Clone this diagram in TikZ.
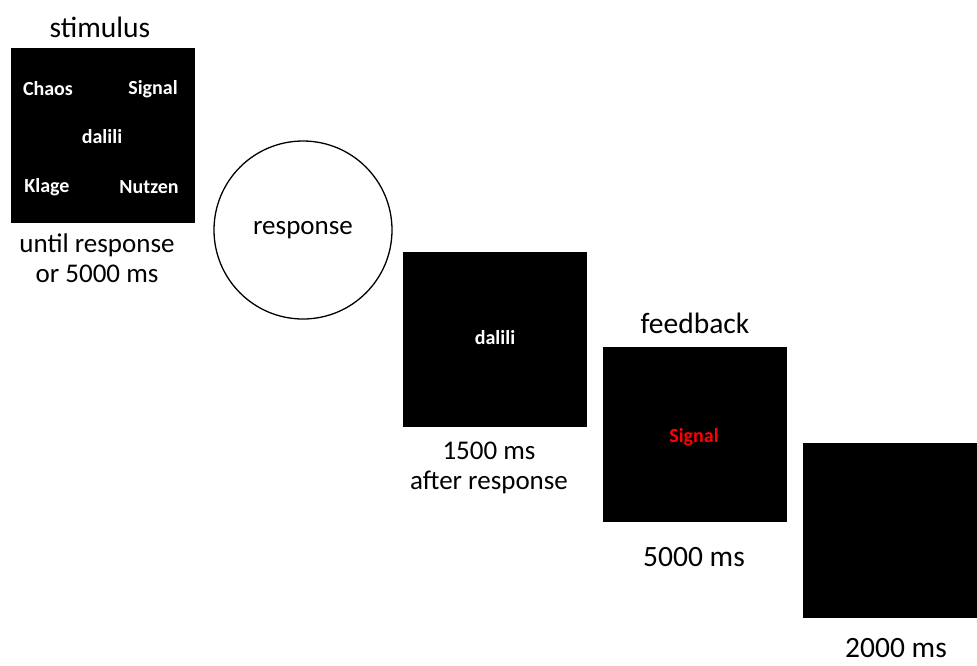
\documentclass[tikz,border=0pt]{standalone}
\usepackage{fontspec}
\setmainfont{Carlito}
\usepackage{tikz}
\usetikzlibrary{positioning}
\tikzset{screen/.style = {rectangle,fill=black,minimum width=184pt,minimum height=175pt,inner sep=0pt},
         word/.style = {text=white,font=\fontsize{20}{24}\selectfont\bfseries},
         caption/.style = {font=\fontsize{27}{30}\selectfont,align=center,inner sep=0pt},
         big/.style = {font=\fontsize{29.5}{32}\selectfont}}

\begin{document}
\begin{tikzpicture}[x=1pt,y=-1pt]
    \useasboundingbox (0,0) rectangle (977,665);
    % stimulus screen with the five words
    \node [screen] (S1) at (103,135) {};
    \node [caption,big] (stim) at (100,27) {stimulus};
    \node [word] (w1) at (48,89) {Chaos};
    \node [word] (w2) at (153,89) {Signal};
    \node [word] (w3) at (102,137) {dalili};
    \node [word] (w4) at (47,187) {Klage};
    \node [word] (w5) at (149,187) {Nutzen};
    \node [caption] (t1) at (97,258) {until response\\or 5000 ms};
    % response
    \node [caption,draw,circle,line width=1.3pt,minimum size=178pt] (R) at (303,230) {response};
    % word alone
    \node [screen] (S2) at (495,339.5) {};
    \node [word] (w6) at (495,338) {dalili};
    \node [caption] (t2) at (489,468) {1500 ms\\after response};
    % feedback
    \node [screen] (S3) at (695,434.5) {};
    \node [caption,big] (fb) at (695,323) {feedback};
    \node [word,text=red] (w7) at (694,437) {Signal};
    \node [caption,big] (t3) at (694,557) {5000 ms};
    % blank screen
    \node [screen] (S4) at (895,530.5) {};
    \node [caption,big] (t4) at (896,648) {2000 ms};
\end{tikzpicture}
\end{document}
